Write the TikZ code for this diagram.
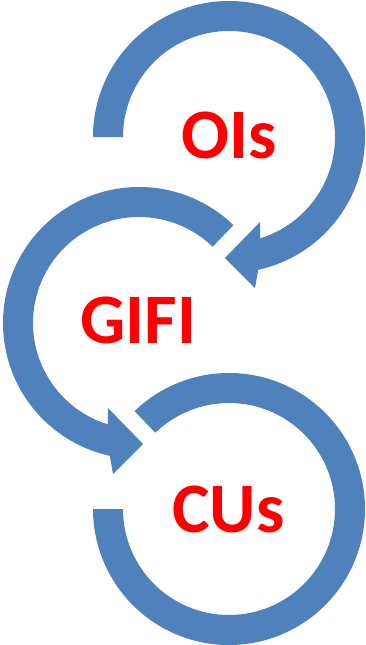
\documentclass[tikz,border=0pt]{standalone}
\usepackage{fontspec}
\setmainfont{Carlito}
\definecolor{ringblue}{HTML}{4F81BD}
\definecolor{labelred}{HTML}{FF0000}
\tikzset{
  ring/.style={fill=ringblue, draw=none},
  label text/.style={text=labelred, font=\fontsize{71}{71}\selectfont\bfseries,
    anchor=base, inner sep=0pt},
}
% Circular arrow around the local origin: the band starts at angle #1,
% runs clockwise and ends in a head pointing down and to the left.
\newcommand\circarrow[1]{%
  \fill[ring] (#1:136pt) arc[start angle=#1, end angle=-77.6, radius=136pt]
    -- (26pt,-151pt) -- (-4pt,-121pt) -- (31pt,-85pt) -- (-72.9:106pt)
    arc[start angle=-72.9, end angle=#1, radius=106pt] -- cycle;}

\begin{document}
\begin{tikzpicture}
\useasboundingbox (0,0) rectangle (366pt,-645pt);

% upper loop, tail on the left, head at the bottom
\begin{scope}[shift={(229pt,-137pt)}]
  \circarrow{180}
\end{scope}

% middle loop, mirrored: tail at the upper right, head at the bottom
\begin{scope}[shift={(139pt,-323pt)}, xscale=-1]
  \circarrow{134}
\end{scope}

% lower ring, open between the upper left and the left
\begin{scope}[shift={(229pt,-509pt)}]
  \fill[ring] (134:136pt) arc[start angle=134, end angle=-180, radius=136pt]
    -- (180:106pt) arc[start angle=-180, end angle=134, radius=106pt] -- cycle;
\end{scope}

\node[label text] (ois)  at (229pt,-158pt)   {OIs};
\node[label text] (gifi) at (138.5pt,-343.5pt) {GIFI};
\node[label text] (cus)  at (228.5pt,-532.5pt) {CUs};
\end{tikzpicture}
\end{document}
